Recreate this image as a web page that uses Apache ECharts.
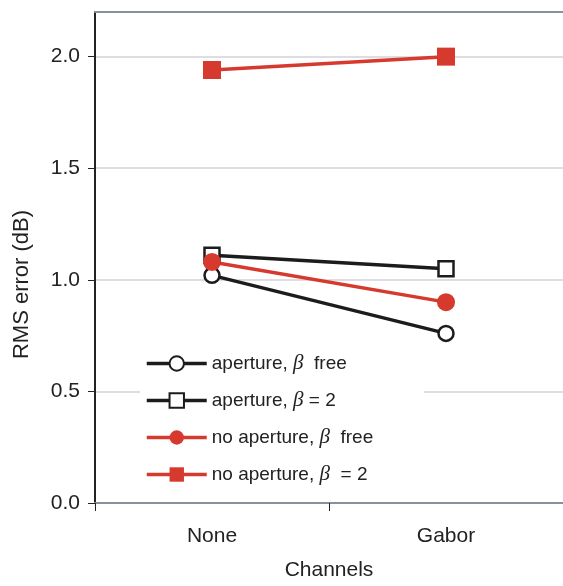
<!DOCTYPE html>
<html>
<head>
<meta charset="utf-8">
<style>
  html, body { margin: 0; padding: 0; background: #fff; }
  #chart { width: 563px; height: 586px; }
</style>
<script src="https://cdn.jsdelivr.net/npm/echarts@6/dist/echarts.min.js"></script>
</head>
<body>
<div id="chart"></div>
<script>
// Channel types on the x axis
const categories = ['None', 'Gabor'];

// RMS error (dB) for each model variant
const apertureBetaFree = [1.02, 0.76];
const apertureBeta2 = [1.11, 1.05];
const noApertureBetaFree = [1.08, 0.90];
const noApertureBeta2 = [1.94, 2.00];

// Legend entries: plain name plus the pieces drawn around the italic beta
const seriesNames = ['aperture, β free', 'aperture, β = 2', 'no aperture, β free', 'no aperture, β = 2'];
const legendPieces = {
  'aperture, β free': ['aperture, ', '  free'],
  'aperture, β = 2': ['aperture, ', ' = 2'],
  'no aperture, β free': ['no aperture, ', '  free'],
  'no aperture, β = 2': ['no aperture, ', '  = 2']
};

const BLACK = '#1c1c1c';
const RED = '#d6392e';
const FONT = 'Liberation Sans, Arial, Helvetica, sans-serif';

const chart = echarts.init(document.getElementById('chart'), null, { renderer: 'canvas' });

function lineSeries(name, data, color, symbol, size, filled) {
  return {
    name: name,
    type: 'line',
    data: data,
    symbol: symbol,
    symbolSize: size,
    showSymbol: true,
    lineStyle: { color: color, width: 3.5 },
    itemStyle: {
      color: filled ? color : '#fff',
      borderColor: color,
      borderWidth: filled ? 0 : 2.5
    },
    emphasis: { disabled: true },
    z: 3
  };
}

chart.setOption({
  animation: false,
  grid: { left: 95, width: 474, top: 12, bottom: 76, containLabel: false },
  legend: {
    orient: 'vertical',
    left: 140,
    top: 344,
    data: seriesNames,
    itemWidth: 60,
    itemHeight: 18,
    itemGap: 16,
    backgroundColor: '#fff',
    padding: [9, 51, 9, 5],
    z: 10,
    lineStyle: { width: 3.5 },
    formatter: function (name) {
      const p = legendPieces[name];
      return '{t|' + p[0] + '}{b|β}{t|' + p[1] + '}';
    },
    textStyle: {
      fontFamily: FONT,
      fontSize: 19,
      color: '#222',
      rich: {
        t: { fontFamily: FONT, fontSize: 19, color: '#222' },
        b: { fontFamily: 'Liberation Serif, DejaVu Serif, serif', fontStyle: 'italic', fontSize: 21, color: '#222' }
      }
    }
  },
  xAxis: [
    {
      type: 'category',
      data: categories,
      boundaryGap: true,
      position: 'bottom',
      name: 'Channels',
      nameLocation: 'middle',
      nameGap: 57,
      nameTextStyle: { fontFamily: FONT, fontSize: 21, color: '#222' },
      axisLine: { show: true, lineStyle: { color: '#8a9099', width: 2 } },
      axisTick: { show: true, length: 8, lineStyle: { color: '#222', width: 1 } },
      axisLabel: { fontFamily: FONT, fontSize: 21, color: '#222', margin: 23 },
      splitLine: { show: false }
    },
    {
      type: 'category',
      data: categories,
      position: 'top',
      axisLine: { show: true, lineStyle: { color: '#8a9099', width: 2 } },
      axisTick: { show: false },
      axisLabel: { show: false },
      splitLine: { show: false }
    }
  ],
  yAxis: {
    type: 'value',
    min: 0,
    max: 2.2,
    interval: 0.5,
    name: 'RMS error (dB)',
    nameLocation: 'middle',
    nameGap: 62,
    nameTextStyle: { fontFamily: FONT, fontSize: 22, color: '#222', padding: [0, 54, 0, 0] },
    axisLine: { show: true, lineStyle: { color: '#222', width: 2 } },
    axisTick: { show: true, length: 7, lineStyle: { color: '#222', width: 1 } },
    axisLabel: {
      fontFamily: FONT,
      fontSize: 21,
      color: '#222',
      margin: 15,
      showMaxLabel: false,
      formatter: function (v) { return v.toFixed(1); }
    },
    splitLine: { show: true, lineStyle: { color: '#d2d2da', width: 1.5 } }
  },
  series: [
    lineSeries(seriesNames[0], apertureBetaFree, BLACK, 'circle', 15, false),
    lineSeries(seriesNames[1], apertureBeta2, BLACK, 'rect', 15, false),
    lineSeries(seriesNames[2], noApertureBetaFree, RED, 'circle', 18, true),
    lineSeries(seriesNames[3], noApertureBeta2, RED, 'rect', 18, true)
  ]
});
</script>
</body>
</html>
